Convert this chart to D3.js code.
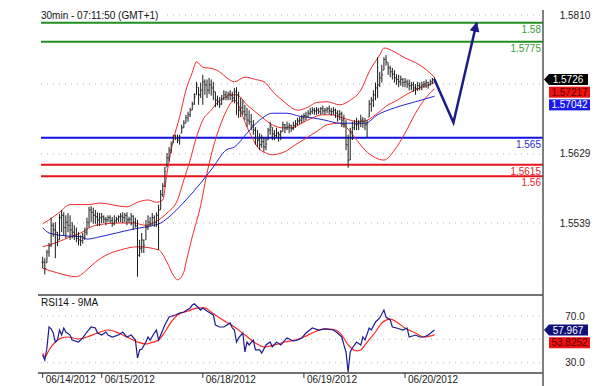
<!DOCTYPE html>
<html>
<head>
<meta charset="utf-8">
<script src="https://cdn.jsdelivr.net/npm/d3@7"></script>
<style>
  body { margin: 0; background: #fff; }
  svg { display: block; font-family: "Liberation Sans", Arial, sans-serif; }
</style>
</head>
<body>
<div id="chart"></div>
<script>
var width = 610, height = 386

// 30 min bars, index 0 = first bar of 06/14/2012
var barHigh = [1.5495,1.5493,1.5504,1.5513,1.5546,1.5539,1.5540,1.5527,1.5551,1.5556,
  1.5553,1.5549,1.5552,1.5549,1.5540,1.5536,1.5533,1.5527,1.5523,1.5526,
  1.5533,1.5546,1.5560,1.5561,1.5559,1.5556,1.5553,1.5552,1.5552,1.5549,
  1.5547,1.5549,1.5549,1.5547,1.5549,1.5547,1.5549,1.5552,1.5553,1.5552,
  1.5553,1.5547,1.5552,1.5549,1.5546,1.5543,1.5517,1.5526,1.5517,1.5543,
  1.5549,1.5547,1.5552,1.5549,1.5553,1.5563,1.5582,1.5591,1.5612,1.5630,
  1.5638,1.5645,1.5654,1.5654,1.5654,1.5654,1.5667,1.5673,1.5680,1.5684,
  1.5689,1.5697,1.5708,1.5723,1.5716,1.5722,1.5732,1.5726,1.5726,1.5728,
  1.5726,1.5723,1.5710,1.5705,1.5703,1.5706,1.5712,1.5711,1.5710,1.5712,
  1.5710,1.5715,1.5716,1.5710,1.5702,1.5699,1.5693,1.5689,1.5686,1.5681,
  1.5673,1.5664,1.5660,1.5656,1.5654,1.5651,1.5650,1.5663,1.5671,1.5664,
  1.5660,1.5663,1.5658,1.5660,1.5671,1.5668,1.5671,1.5669,1.5667,1.5671,
  1.5673,1.5676,1.5677,1.5680,1.5682,1.5684,1.5686,1.5689,1.5690,1.5689,
  1.5690,1.5689,1.5690,1.5692,1.5689,1.5690,1.5692,1.5689,1.5690,1.5688,
  1.5686,1.5686,1.5684,1.5680,1.5673,1.5654,1.5663,1.5671,1.5673,1.5676,
  1.5673,1.5680,1.5677,1.5676,1.5673,1.5699,1.5703,1.5712,1.5722,1.5755,
  1.5736,1.5745,1.5755,1.5758,1.5748,1.5744,1.5741,1.5738,1.5733,1.5732,
  1.5731,1.5728,1.5728,1.5726,1.5726,1.5723,1.5723,1.5720,1.5723,1.5722,
  1.5723,1.5724,1.5726,1.5723,1.5726,1.5728,1.5729]
var barLow = [1.5480,1.5472,1.5487,1.5495,1.5508,1.5521,1.5493,1.5509,1.5517,1.5527,
  1.5522,1.5519,1.5527,1.5517,1.5519,1.5517,1.5514,1.5510,1.5509,1.5512,
  1.5517,1.5523,1.5533,1.5540,1.5538,1.5538,1.5535,1.5535,1.5539,1.5539,
  1.5536,1.5540,1.5539,1.5534,1.5536,1.5539,1.5540,1.5540,1.5539,1.5540,
  1.5536,1.5539,1.5536,1.5530,1.5533,1.5469,1.5495,1.5500,1.5500,1.5517,
  1.5530,1.5534,1.5536,1.5534,1.5534,1.5504,1.5556,1.5573,1.5586,1.5612,
  1.5619,1.5630,1.5643,1.5647,1.5643,1.5641,1.5656,1.5663,1.5669,1.5671,
  1.5677,1.5686,1.5693,1.5706,1.5693,1.5702,1.5693,1.5706,1.5702,1.5707,
  1.5705,1.5699,1.5690,1.5692,1.5689,1.5693,1.5699,1.5699,1.5699,1.5699,
  1.5697,1.5695,1.5680,1.5676,1.5677,1.5680,1.5673,1.5664,1.5667,1.5660,
  1.5654,1.5641,1.5638,1.5634,1.5637,1.5632,1.5634,1.5647,1.5654,1.5647,
  1.5647,1.5650,1.5645,1.5647,1.5658,1.5656,1.5660,1.5656,1.5658,1.5660,
  1.5663,1.5666,1.5668,1.5669,1.5671,1.5673,1.5676,1.5679,1.5681,1.5680,
  1.5680,1.5681,1.5680,1.5681,1.5680,1.5682,1.5681,1.5679,1.5680,1.5676,
  1.5671,1.5673,1.5664,1.5663,1.5634,1.5611,1.5621,1.5647,1.5660,1.5660,
  1.5660,1.5664,1.5663,1.5660,1.5650,1.5677,1.5684,1.5690,1.5699,1.5702,
  1.5716,1.5722,1.5738,1.5744,1.5732,1.5729,1.5726,1.5722,1.5719,1.5716,
  1.5718,1.5716,1.5716,1.5715,1.5712,1.5712,1.5710,1.5706,1.5711,1.5712,
  1.5712,1.5715,1.5715,1.5714,1.5718,1.5720,1.5722]
var barClose = [1.5488,1.5480,1.5501,1.5509,1.5536,1.5530,1.5527,1.5517,1.5546,1.5549,
  1.5533,1.5540,1.5536,1.5530,1.5527,1.5523,1.5519,1.5517,1.5516,1.5519,
  1.5527,1.5540,1.5556,1.5553,1.5549,1.5547,1.5543,1.5546,1.5547,1.5544,
  1.5543,1.5546,1.5542,1.5538,1.5542,1.5544,1.5547,1.5548,1.5546,1.5549,
  1.5543,1.5544,1.5548,1.5540,1.5535,1.5497,1.5506,1.5517,1.5510,1.5533,
  1.5540,1.5538,1.5546,1.5540,1.5549,1.5556,1.5576,1.5587,1.5606,1.5624,
  1.5634,1.5641,1.5650,1.5650,1.5647,1.5651,1.5663,1.5669,1.5676,1.5680,
  1.5686,1.5694,1.5703,1.5719,1.5706,1.5712,1.5723,1.5719,1.5712,1.5719,
  1.5715,1.5710,1.5699,1.5697,1.5694,1.5701,1.5706,1.5703,1.5707,1.5705,
  1.5702,1.5710,1.5706,1.5686,1.5689,1.5684,1.5680,1.5673,1.5671,1.5666,
  1.5660,1.5650,1.5647,1.5641,1.5645,1.5638,1.5642,1.5660,1.5666,1.5655,
  1.5653,1.5656,1.5654,1.5658,1.5667,1.5663,1.5664,1.5666,1.5662,1.5666,
  1.5668,1.5672,1.5673,1.5676,1.5679,1.5677,1.5682,1.5684,1.5686,1.5685,
  1.5686,1.5684,1.5688,1.5685,1.5686,1.5688,1.5685,1.5684,1.5686,1.5682,
  1.5680,1.5681,1.5673,1.5667,1.5641,1.5621,1.5658,1.5663,1.5668,1.5667,
  1.5669,1.5673,1.5671,1.5667,1.5669,1.5694,1.5699,1.5706,1.5715,1.5719,
  1.5728,1.5732,1.5752,1.5749,1.5741,1.5736,1.5733,1.5728,1.5726,1.5723,
  1.5726,1.5722,1.5723,1.5720,1.5718,1.5719,1.5715,1.5714,1.5718,1.5716,
  1.5719,1.5720,1.5722,1.5719,1.5723,1.5726,1.5726]

// bollinger bands and moving average, [bar index, price]
var bbUpper = [[0,1.5538],[3,1.5543],[8,1.5553],[13,1.5563],[22,1.5563],[27,1.5565],[40,1.5560],
  [45,1.5566],[50,1.5569],[54,1.5566],[57,1.5569],[59,1.5604],[62,1.5647],[65,1.5677],[68,1.5712],
  [71,1.5735],[73,1.5749],[76,1.5742],[81,1.5740],[84,1.5736],[87,1.5729],[91,1.5723],[96,1.5729],
  [101,1.5726],[105,1.5723],[110,1.5708],[115,1.5696],[121,1.5686],[126,1.5690],[130,1.5696],
  [135,1.5697],[141,1.5693],[146,1.5699],[151,1.5712],[155,1.5736],[160,1.5758],[162,1.5767],
  [167,1.5762],[172,1.5754],[177,1.5748],[181,1.5741],[186,1.5729]]
var bbMiddle = [[0,1.5508],[7,1.5514],[13,1.5521],[18,1.5526],[23,1.5534],[30,1.5538],[37,1.5539],
  [43,1.5539],[49,1.5536],[55,1.5543],[59,1.5552],[64,1.5569],[67,1.5595],[70,1.5621],[73,1.5651],
  [76,1.5673],[80,1.5686],[83,1.5696],[86,1.5702],[89,1.5706],[92,1.5706],[97,1.5693],[104,1.5677],
  [109,1.5667],[114,1.5663],[118,1.5663],[123,1.5669],[128,1.5676],[133,1.5680],[137,1.5680],
  [141,1.5677],[146,1.5673],[150,1.5671],[154,1.5673],[159,1.5682],[164,1.5693],[167,1.5697],
  [175,1.5710],[180,1.5716],[186,1.57217]]
var bbLower = [[0,1.5480],[7,1.5474],[16,1.5469],[21,1.5478],[25,1.5488],[30,1.5497],[37,1.5504],
  [45,1.5508],[55,1.5504],[59,1.5488],[62,1.5471],[64,1.5465],[67,1.5475],[68,1.5487],[71,1.5521],
  [75,1.5562],[78,1.5604],[81,1.5638],[84,1.5664],[87,1.5684],[91,1.5699],[97,1.5664],[102,1.5638],
  [106,1.5630],[109,1.5628],[115,1.5632],[120,1.5641],[126,1.5651],[131,1.5660],[135,1.5667],
  [141,1.5669],[144,1.5664],[148,1.5651],[153,1.5634],[158,1.5624],[162,1.5621],[167,1.5634],
  [172,1.5656],[177,1.5682],[181,1.5699],[186,1.5714]]
var maBlue = [[0,1.5533],[3,1.5526],[12,1.5522],[19,1.5521],[21,1.5518],[27,1.5521],[35,1.5526],
  [43,1.5531],[49,1.5534],[56,1.5539],[62,1.5552],[68,1.5569],[75,1.5591],[81,1.5612],[87,1.5634],
  [91,1.5638],[97,1.5656],[103,1.5673],[109,1.5682],[116,1.5682],[122,1.5678],[128,1.5676],
  [134,1.5673],[141,1.5669],[153,1.5669],[159,1.5680],[167,1.5689],[177,1.5697],[186,1.57042]]

// RSI14 and its 9MA, [bar index, value]
var rsi = [[0,36.6],[1,32.3],[2,42.6],[3,60.6],[4,59.0],[5,55.4],[6,47.7],[7,49.4],[8,58.0],[9,53.7],
  [10,59.7],[11,56.3],[13,53.7],[14,49.4],[17,47.7],[19,51.2],[21,56.3],[23,60.6],[25,59.7],[26,55.4],
  [28,53.7],[30,56.3],[31,53.7],[33,52.0],[36,53.7],[38,56.3],[40,52.0],[42,53.7],[44,49.4],[45,34.0],
  [46,40.9],[47,41.5],[49,47.7],[50,52.0],[51,49.4],[53,55.4],[54,58.0],[55,49.4],[56,53.7],[58,62.3],
  [60,69.1],[63,70.9],[65,72.6],[67,73.4],[70,76.9],[71,79.4],[72,80.5],[75,75.1],[76,76.9],[78,74.3],
  [81,70.9],[82,62.3],[84,60.6],[86,60.6],[89,64.0],[90,59.7],[91,58.0],[92,47.7],[93,51.2],[95,55.4],
  [96,39.2],[97,47.7],[98,45.2],[100,49.4],[101,40.9],[103,40.9],[104,38.3],[106,45.2],[108,47.7],
  [109,43.5],[111,47.7],[113,45.2],[115,49.4],[116,51.2],[119,48.6],[121,49.4],[123,51.2],[125,55.4],
  [128,59.7],[131,58.0],[134,58.9],[138,58.0],[140,55.4],[142,52.0],[143,45.2],[144,39.2],[145,22.0],
  [146,39.2],[147,42.6],[149,47.7],[151,45.2],[152,52.0],[153,49.4],[155,59.7],[156,58.0],[158,64.9],
  [159,66.6],[160,68.3],[162,75.1],[163,69.1],[165,66.6],[166,60.6],[168,59.7],[171,58.0],[173,59.7],
  [174,52.0],[177,53.7],[179,52.0],[181,52.0],[183,53.7],[186,57.967]]
var rsiMA = [[0,38.3],[1,34.9],[3,40.9],[6,47.7],[9,51.2],[12,52.0],[17,50.3],[21,52.0],[26,55.4],
  [31,58.0],[36,55.4],[40,52.0],[45,47.7],[49,46.0],[51,46.9],[55,49.4],[58,56.3],[61,64.9],[64,70.9],
  [69,74.3],[74,76.9],[77,76.9],[80,73.4],[84,68.3],[88,64.0],[91,60.6],[96,53.7],[101,46.9],[105,43.5],
  [110,45.2],[115,47.7],[120,49.4],[124,52.0],[129,56.3],[134,58.9],[139,58.0],[142,53.7],[145,45.2],
  [149,40.1],[151,40.9],[154,47.7],[158,56.3],[161,64.0],[165,67.4],[168,64.9],[172,59.7],[177,55.4],
  [181,52.0],[186,53.8252]]

// horizontal levels
var levels = [1.58, 1.5775, 1.565, 1.5615, 1.56]
var levelLabels = ['1.58', '1.5775', '1.565', '1.5615', '1.56']
var levelColors = ['#1f8f1f', '#1f8f1f', '#1010e8', '#e8141c', '#e8141c']
var levelTextColors = ['#3a9e3a', '#3a9e3a', '#2a2ad0', '#e8242a', '#e8242a']

// forecast arrow, [bar index, price]
var forecast = [[186, 1.5726], [195, 1.5670], [206, 1.5800]]

var priceTicks = [1.5539, 1.5629, 1.5720, 1.5810]
var priceTickLabels = ['1.5539', '1.5629', '', '1.5810']
var rsiTicks = [30, 50, 70]
var rsiTickLabels = ['30.0', '', '70.0']

var dateLabels = ['06/14/2012', '06/15/2012', '06/18/2012', '06/19/2012', '06/20/2012']
var dateIdx = [0, 28, 76, 124, 172]

var plotLeft = 41, plotRight = 543

var svg = d3.select('#chart')
  .append('svg')
  .attr('width', width)
  .attr('height', height)

var xScale = d3.scaleLinear()
  .domain([0, 172])
  .range([42.7, 405])

var yScale = d3.scaleLinear()
  .domain([1.5539, 1.5810])
  .range([223, 15])

var rScale = d3.scaleLinear()
  .domain([30, 70])
  .range([362.7, 316])

// dotted grids
svg.selectAll('line.pgrid')
  .data(priceTicks)
  .enter()
  .append('line')
  .attr('x1', plotLeft).attr('x2', plotRight)
  .attr('y1', d => yScale(d)).attr('y2', d => yScale(d))
  .attr('stroke', '#b4b4b4')
  .attr('stroke-dasharray', '1,5')

svg.selectAll('line.rgrid')
  .data(rsiTicks)
  .enter()
  .append('line')
  .attr('x1', plotLeft).attr('x2', plotRight)
  .attr('y1', d => rScale(d)).attr('y2', d => rScale(d))
  .attr('stroke', '#b4b4b4')
  .attr('stroke-dasharray', '1,5')

// title
svg.append('rect')
  .attr('x', 38).attr('y', 8).attr('width', 126).attr('height', 13)
  .attr('fill', '#fff')
svg.append('text')
  .attr('x', plotLeft).attr('y', 18.5)
  .attr('font-size', '10px')
  .attr('fill', '#111')
  .text('30min - 07:11:50 (GMT+1)')

// levels
svg.selectAll('line.level')
  .data(levels)
  .enter()
  .append('line')
  .attr('x1', plotLeft).attr('x2', plotRight)
  .attr('y1', d => yScale(d)).attr('y2', d => yScale(d))
  .attr('stroke', (d, i) => levelColors[i])
  .attr('stroke-width', 2)

svg.selectAll('text.level')
  .data(levels)
  .enter()
  .append('text')
  .attr('x', plotRight - 2)
  .attr('y', d => yScale(d) + 10)
  .attr('text-anchor', 'end')
  .attr('font-size', '10px')
  .attr('fill', (d, i) => levelTextColors[i])
  .text((d, i) => levelLabels[i])

// bands and moving average
var smooth = d3.line()
  .x(d => xScale(d[0]))
  .y(d => yScale(d[1]))
  .curve(d3.curveMonotoneX)

;[bbUpper, bbMiddle, bbLower].forEach(function(band) {
  svg.append('path')
    .datum(band)
    .attr('d', smooth)
    .attr('fill', 'none')
    .attr('stroke', '#f22a2a')
    .attr('stroke-width', 1)
})

svg.append('path')
  .datum(maBlue)
  .attr('d', smooth)
  .attr('fill', 'none')
  .attr('stroke', '#2424d8')
  .attr('stroke-width', 1)

// OHLC bars (open = previous close, kept inside the bar's range)
var clampOpen = function(i) {
  var o = i === 0 ? barClose[0] : barClose[i - 1]
  return Math.min(Math.max(o, barLow[i]), barHigh[i])
}
var bars = svg.append('g').attr('class', 'bars')
bars.selectAll('line.op')
  .data(barClose)
  .enter()
  .append('line')
  .attr('x1', (d, i) => xScale(i) - 1.4).attr('x2', (d, i) => xScale(i))
  .attr('y1', (d, i) => yScale(clampOpen(i))).attr('y2', (d, i) => yScale(clampOpen(i)))
  .attr('stroke', '#777')
  .attr('stroke-width', 1)

bars.selectAll('line.cl')
  .data(barClose)
  .enter()
  .append('line')
  .attr('x1', (d, i) => xScale(i)).attr('x2', (d, i) => xScale(i) + 1.4)
  .attr('y1', d => yScale(d)).attr('y2', d => yScale(d))
  .attr('stroke', '#666')
  .attr('stroke-width', 1)

bars.selectAll('line.hl')
  .data(barClose)
  .enter()
  .append('line')
  .attr('x1', (d, i) => xScale(i)).attr('x2', (d, i) => xScale(i))
  .attr('y1', (d, i) => yScale(barHigh[i]))
  .attr('y2', (d, i) => yScale(barLow[i]))
  .attr('stroke', '#1a1a1a')
  .attr('stroke-width', 1)

// forecast arrow
svg.append('defs')
  .append('marker')
  .attr('id', 'head')
  .attr('viewBox', '0 0 10 10')
  .attr('refX', 9).attr('refY', 5)
  .attr('markerWidth', 11).attr('markerHeight', 10)
  .attr('markerUnits', 'userSpaceOnUse')
  .attr('orient', 'auto')
  .append('path')
  .attr('d', 'M0,0L10,5L0,10Z')
  .attr('fill', '#1c1c88')

svg.append('path')
  .datum(forecast)
  .attr('d', d3.line().x(d => xScale(d[0])).y(d => yScale(d[1])))
  .attr('fill', 'none')
  .attr('stroke', '#1c1c88')
  .attr('stroke-width', 2.5)
  .attr('marker-end', 'url(#head)')

// RSI panel
svg.append('text')
  .attr('x', plotLeft).attr('y', 305.5)
  .attr('font-size', '10px')
  .attr('fill', '#111')
  .text('RSI14 - 9MA')

svg.append('path')
  .datum(rsiMA)
  .attr('d', d3.line().x(d => xScale(d[0])).y(d => rScale(d[1])).curve(d3.curveMonotoneX))
  .attr('fill', 'none')
  .attr('stroke', '#ff2424')
  .attr('stroke-width', 1.2)

svg.append('path')
  .datum(rsi)
  .attr('d', d3.line().x(d => xScale(d[0])).y(d => rScale(d[1])))
  .attr('fill', 'none')
  .attr('stroke', '#1c1c90')
  .attr('stroke-width', 1.2)

// frame lines
svg.append('line')
  .attr('x1', 38).attr('x2', plotRight)
  .attr('y1', 295).attr('y2', 295)
  .attr('stroke', '#444').attr('stroke-width', 1.5)
svg.append('line')
  .attr('x1', 38).attr('x2', plotRight)
  .attr('y1', 373).attr('y2', 373)
  .attr('stroke', '#444').attr('stroke-width', 1.5)
svg.append('line')
  .attr('x1', plotRight).attr('x2', plotRight)
  .attr('y1', 10).attr('y2', height)
  .attr('stroke', '#555').attr('stroke-width', 1.5)

// right axis labels
svg.selectAll('text.ptick')
  .data(priceTicks)
  .enter()
  .append('text')
  .attr('x', 575)
  .attr('y', d => yScale(d) + 3.5)
  .attr('text-anchor', 'middle')
  .attr('font-size', '10px')
  .attr('fill', '#222')
  .text((d, i) => priceTickLabels[i])

svg.selectAll('text.rtick')
  .data(rsiTicks)
  .enter()
  .append('text')
  .attr('x', 575)
  .attr('y', d => rScale(d) + 3.5)
  .attr('text-anchor', 'middle')
  .attr('font-size', '10px')
  .attr('fill', '#222')
  .text((d, i) => rsiTickLabels[i])

// date axis
svg.selectAll('line.dtick')
  .data(dateIdx)
  .enter()
  .append('line')
  .attr('x1', d => xScale(d)).attr('x2', d => xScale(d))
  .attr('y1', 373).attr('y2', 378)
  .attr('stroke', '#333')

svg.selectAll('text.date')
  .data(dateIdx)
  .enter()
  .append('text')
  .attr('x', d => xScale(d) + 3)
  .attr('y', 383)
  .attr('font-size', '10px')
  .attr('fill', '#222')
  .text((d, i) => dateLabels[i])

// value badges on the right
function badge(yPos, label, fill, textFill, pointed) {
  var g = svg.append('g')
  if (pointed) {
    g.append('path')
      .attr('d', `M544,${yPos}L549,${yPos - 5.5}L588,${yPos - 5.5}L588,${yPos + 5.5}L549,${yPos + 5.5}Z`)
      .attr('fill', fill)
  } else {
    g.append('rect')
      .attr('x', 549).attr('y', yPos - 5.5)
      .attr('width', 41).attr('height', 11)
      .attr('fill', fill)
  }
  g.append('text')
    .attr('x', pointed ? 568 : 569.5)
    .attr('y', yPos + 3.6)
    .attr('text-anchor', 'middle')
    .attr('font-size', '10px')
    .attr('fill', textFill)
    .text(label)
}

var last = barClose.length - 1
var yClose = yScale(barClose[last])
var yMid = Math.max(yScale(bbMiddle[bbMiddle.length - 1][1]), yClose + 12.7)
var yMa = Math.max(yScale(maBlue[maBlue.length - 1][1]), yMid + 12.7)
badge(yClose, String(barClose[last]), '#000', '#fff', true)
badge(yMid, String(bbMiddle[bbMiddle.length - 1][1]), '#ee1111', '#5a0000', false)
badge(yMa, String(maBlue[maBlue.length - 1][1]), '#1a1aee', '#fff', false)

var yRsi = rScale(rsi[rsi.length - 1][1])
var yRsiMa = Math.max(rScale(rsiMA[rsiMA.length - 1][1]), yRsi + 12.7)
badge(yRsi, String(rsi[rsi.length - 1][1]), '#10107a', '#fff', true)
badge(yRsiMa, String(rsiMA[rsiMA.length - 1][1]), '#ee1111', '#5a0000', false)
</script>
</body>
</html>
